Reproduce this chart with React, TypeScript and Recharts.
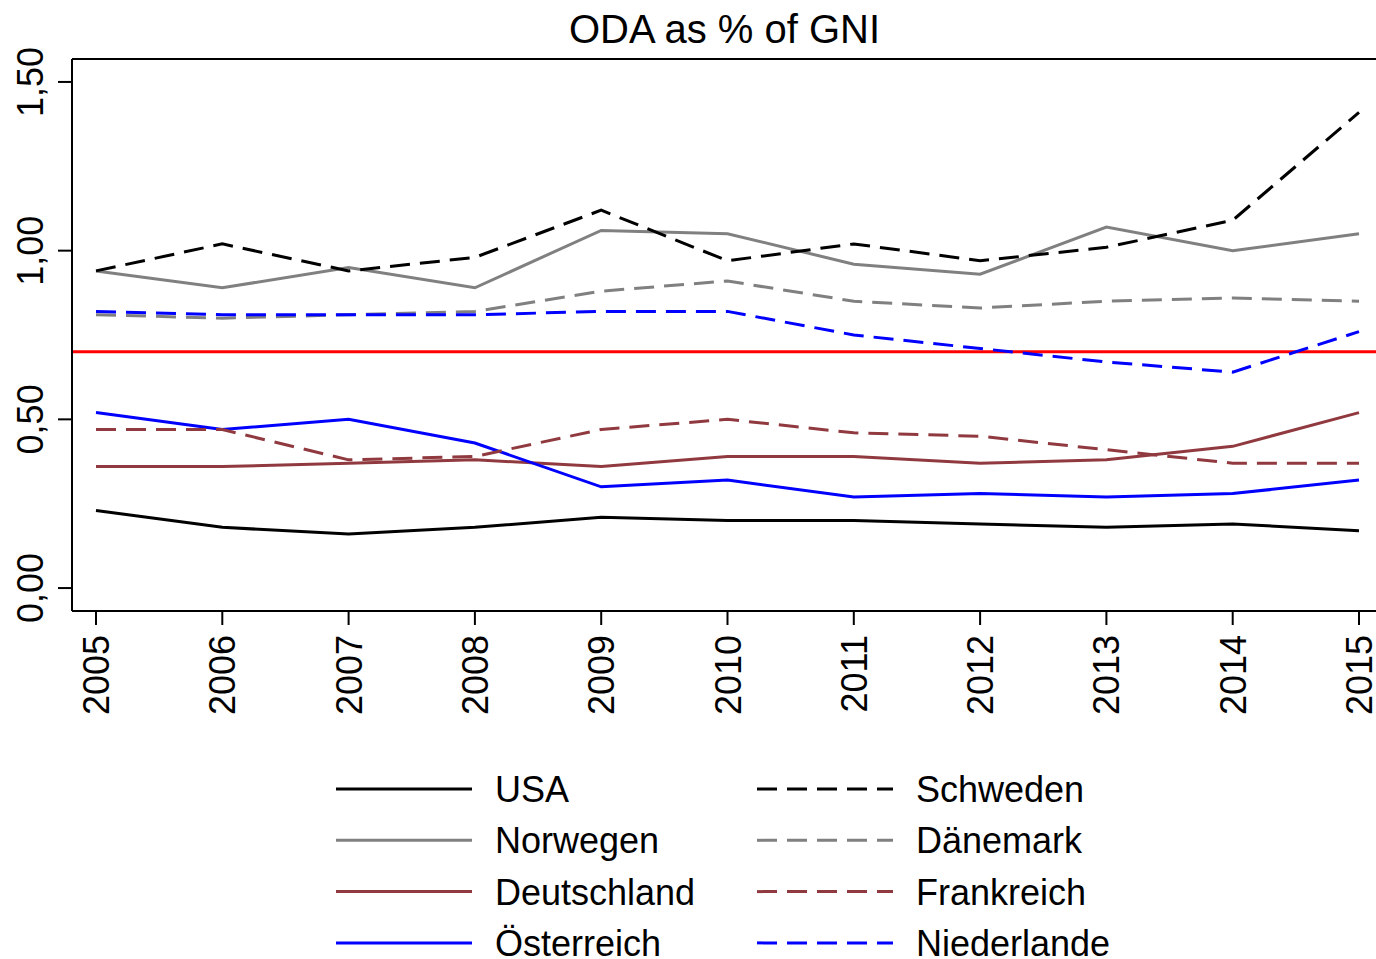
import { LineChart, Line, XAxis, YAxis, ReferenceLine } from "recharts";

const years = ["2005", "2006", "2007", "2008", "2009", "2010", "2011", "2012", "2013", "2014", "2015"];

const usa = [0.23, 0.18, 0.16, 0.18, 0.21, 0.2, 0.2, 0.19, 0.18, 0.19, 0.17];
const norwegen = [0.94, 0.89, 0.95, 0.89, 1.06, 1.05, 0.96, 0.93, 1.07, 1.0, 1.05];
const deutschland = [0.36, 0.36, 0.37, 0.38, 0.36, 0.39, 0.39, 0.37, 0.38, 0.42, 0.52];
const oesterreich = [0.52, 0.47, 0.5, 0.43, 0.3, 0.32, 0.27, 0.28, 0.27, 0.28, 0.32];
const schweden = [0.94, 1.02, 0.94, 0.98, 1.12, 0.97, 1.02, 0.97, 1.01, 1.09, 1.41];
const daenemark = [0.81, 0.8, 0.81, 0.82, 0.88, 0.91, 0.85, 0.83, 0.85, 0.86, 0.85];
const frankreich = [0.47, 0.47, 0.38, 0.39, 0.47, 0.5, 0.46, 0.45, 0.41, 0.37, 0.37];
const niederlande = [0.82, 0.81, 0.81, 0.81, 0.82, 0.82, 0.75, 0.71, 0.67, 0.64, 0.76];

const yTicks = [0, 0.5, 1, 1.5];
const target = 0.7;

const BROWN = "#903a40";
const GRAY = "#808080";
const BLUE = "#0000ff";

const series = [
  { key: "usa", name: "USA", values: usa, color: "#000000", dashed: false },
  { key: "norwegen", name: "Norwegen", values: norwegen, color: GRAY, dashed: false },
  { key: "deutschland", name: "Deutschland", values: deutschland, color: BROWN, dashed: false },
  { key: "oesterreich", name: "Österreich", values: oesterreich, color: BLUE, dashed: false },
  { key: "schweden", name: "Schweden", values: schweden, color: "#000000", dashed: true },
  { key: "daenemark", name: "Dänemark", values: daenemark, color: GRAY, dashed: true },
  { key: "frankreich", name: "Frankreich", values: frankreich, color: BROWN, dashed: true },
  { key: "niederlande", name: "Niederlande", values: niederlande, color: BLUE, dashed: true },
];

const data = years.map((year, i) => {
  const row: Record<string, string | number> = { year };
  series.forEach((s) => {
    row[s.key] = s.values[i];
  });
  return row;
});

const FONT = "'Liberation Sans', Arial, Helvetica, sans-serif";
const DASH = "20 10";

const YTick = (props: any) => {
  const { x, y, payload } = props;
  const tx = x - 13;
  return (
    <text
      x={tx}
      y={y}
      transform={`rotate(-90, ${tx}, ${y})`}
      textAnchor="middle"
      fontSize={36}
      fontFamily={FONT}
      fill="#000"
    >
      {payload.value.toFixed(2).replace(".", ",")}
    </text>
  );
};

const XTick = (props: any) => {
  const { x, y, payload } = props;
  const tx = x + 13;
  const ty = y + 8;
  return (
    <text
      x={tx}
      y={ty}
      transform={`rotate(-90, ${tx}, ${ty})`}
      textAnchor="end"
      fontSize={36}
      fontFamily={FONT}
      fill="#000"
    >
      {payload.value}
    </text>
  );
};

function LegendBlock() {
  const rows = 4;
  return (
    <svg width={1376} height={199} style={{ position: "absolute", left: 0, top: 760 }}>
      {series.map((s, i) => {
        const col = Math.floor(i / rows);
        const row = i % rows;
        const x0 = col === 0 ? 336 : 757;
        const cy = 29 + row * 51.3;
        return (
          <g key={s.key}>
            <line
              x1={x0}
              x2={x0 + 136}
              y1={cy}
              y2={cy}
              stroke={s.color}
              strokeWidth={3}
              strokeDasharray={s.dashed ? DASH : undefined}
            />
            <text x={x0 + 159} y={cy + 13} fontSize={36} fontFamily={FONT} fill="#000">
              {s.name}
            </text>
          </g>
        );
      })}
    </svg>
  );
}

export default function App() {
  return (
    <div style={{ position: "absolute", left: 0, top: 0, width: 1376, height: 959, background: "#fff" }}>
      <div
        style={{
          position: "absolute",
          left: 0,
          top: 0,
          width: 1376,
          textAlign: "center",
          fontFamily: FONT,
          fontSize: 40,
          lineHeight: "58px",
          paddingLeft: 73,
          boxSizing: "border-box",
        }}
      >
        ODA as % of GNI
      </div>
      <LineChart
        width={1376}
        height={959}
        data={data}
        margin={{ top: 58, right: 0, bottom: 0, left: 0 }}
      >
        <XAxis
          xAxisId="top"
          orientation="top"
          dataKey="year"
          height={1}
          tick={false}
          tickLine={false}
          axisLine={{ stroke: "#000", strokeWidth: 2 }}
        />
        <XAxis
          dataKey="year"
          height={348}
          padding={{ left: 24, right: 17 }}
          tickSize={14}
          tickLine={{ stroke: "#000", strokeWidth: 2 }}
          axisLine={{ stroke: "#000", strokeWidth: 2 }}
          tick={<XTick />}
          interval={0}
        />
        <YAxis
          width={72}
          type="number"
          domain={[-0.068, 1.568]}
          allowDataOverflow
          ticks={yTicks}
          tickSize={14}
          tickLine={{ stroke: "#000", strokeWidth: 2 }}
          axisLine={{ stroke: "#000", strokeWidth: 2 }}
          tick={<YTick />}
        />
        <ReferenceLine y={target} stroke="#ff0000" strokeWidth={3} />
        {series.map((s) => (
          <Line
            key={s.key}
            dataKey={s.key}
            name={s.name}
            stroke={s.color}
            strokeWidth={3}
            strokeDasharray={s.dashed ? DASH : undefined}
            dot={false}
            activeDot={false}
            isAnimationActive={false}
          />
        ))}
      </LineChart>
      <LegendBlock />
    </div>
  );
}
